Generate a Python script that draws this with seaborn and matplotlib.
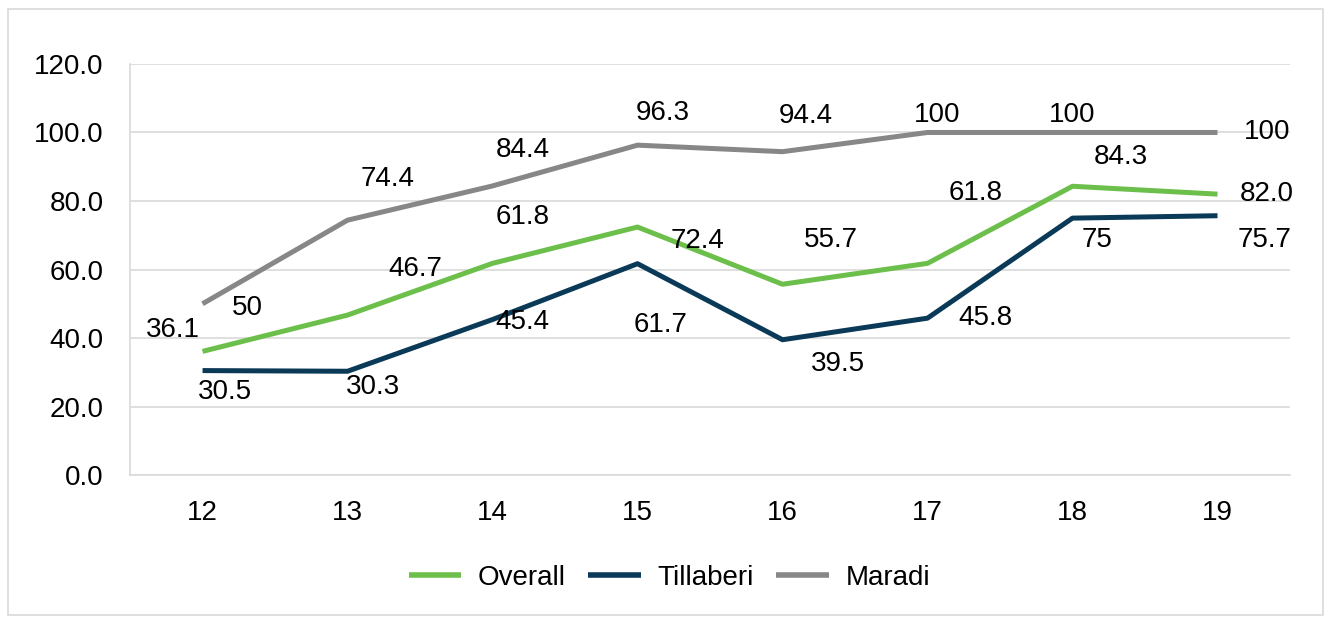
import pandas as pd
import seaborn as sns
import matplotlib.pyplot as plt

# data
years = [12, 13, 14, 15, 16, 17, 18, 19]
overall = [36.1, 46.7, 61.8, 72.4, 55.7, 61.8, 84.3, 82.0]
tillaberi = [30.5, 30.3, 45.4, 61.7, 39.5, 45.8, 75, 75.7]
maradi = [50, 74.4, 84.4, 96.3, 94.4, 100, 100, 100]
overall_labels = ['36.1', '46.7', '61.8', '72.4', '55.7', '61.8', '84.3', '82.0']
tillaberi_labels = ['30.5', '30.3', '45.4', '61.7', '39.5', '45.8', '75', '75.7']
maradi_labels = ['50', '74.4', '84.4', '96.3', '94.4', '100', '100', '100']

# label offsets in pixels (dx, dy)
off_overall = [(-30, 21), (68, 46), (30, 46), (60, -14), (48, 44), (48, 70), (48, 29), (49, 0)]
off_tillaberi = [(22, -21), (25, -16), (30, -2), (23, -61), (55, -24), (58, 0), (25, -22), (47, -24)]
off_maradi = [(45, -4), (40, 41), (30, 36), (25, 32), (23, 36), (10, 17), (0, 17), (50, 0)]

df = pd.DataFrame({
    'year': years * 3,
    'value': overall + tillaberi + maradi,
    'series': ['Overall'] * 8 + ['Tillaberi'] * 8 + ['Maradi'] * 8,
})
colors = {'Overall': '#6CBF4B', 'Tillaberi': '#0A3A57', 'Maradi': '#878787'}

sns.set_theme(style='white')
plt.rcParams['font.family'] = ['Liberation Sans', 'DejaVu Sans']

fig = plt.figure(figsize=(13.31, 6.21), dpi=100)
ax = fig.add_axes([0.0977, 0.235, 0.8715, 0.662])
sns.lineplot(data=df, x='year', y='value', hue='series', palette=colors,
             linewidth=3.6, ax=ax, legend=False, solid_capstyle='butt')

for vals, labs, offs in [(overall, overall_labels, off_overall),
                         (tillaberi, tillaberi_labels, off_tillaberi),
                         (maradi, maradi_labels, off_maradi)]:
    for x, v, lab, (dx, dy) in zip(years, vals, labs, offs):
        ax.annotate(lab, (x, v), xytext=(dx, dy), textcoords='offset pixels',
                    ha='center', va='center', fontsize=20, color='black')

ax.set_xlim(11.5, 19.5)
ax.set_ylim(0, 120)
ax.set_yticks([0, 20, 40, 60, 80, 100, 120])
ax.set_yticklabels(['%.1f' % t for t in [0, 20, 40, 60, 80, 100, 120]], fontsize=20, color='black')
ax.set_xticks(years)
ax.set_xticklabels([str(y) for y in years], fontsize=20, color='black')
ax.tick_params(axis='x', pad=12)
ax.tick_params(axis='y', pad=13)
ax.set_xlabel('')
ax.set_ylabel('')
ax.grid(axis='y', color='#D9D9D9', linewidth=1.2)
for s in ['top', 'right']:
    ax.spines[s].set_visible(False)
ax.spines['left'].set_color('#D9D9D9')
ax.spines['bottom'].set_color('#D9D9D9')
ax.spines['left'].set_linewidth(1.2)
ax.spines['bottom'].set_linewidth(1.2)

handles = [plt.Line2D([], [], color=colors[k], linewidth=4, solid_capstyle='butt')
           for k in ['Overall', 'Tillaberi', 'Maradi']]
fig.legend(handles, ['Overall', 'Tillaberi', 'Maradi'], loc='center', bbox_to_anchor=(0.503, 0.07),
           ncol=3, frameon=False, fontsize=20, handlelength=1.9, handletextpad=0.6,
           columnspacing=0.8, labelcolor='black')

# outer chart border
fig.patches.append(plt.Rectangle((0.006, 0.01), 0.988, 0.975, transform=fig.transFigure,
                                 fill=False, edgecolor='#D9D9D9', linewidth=1.2))

plt.savefig('out.png', dpi=100)
